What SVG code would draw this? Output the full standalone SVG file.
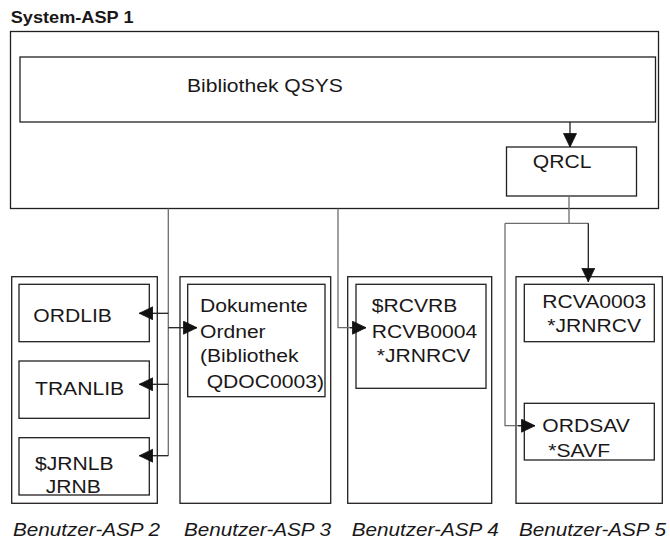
<svg xmlns="http://www.w3.org/2000/svg" width="670" height="540" viewBox="0 0 670 540">
<defs>
<style>
.box{fill:#fff;stroke:#231f20;stroke-width:1.3}
.con{fill:none;stroke:#6d6d6d;stroke-width:1.3}
.con2{fill:none;stroke:#231f20;stroke-width:1.3}
text{font-family:"Liberation Sans",Arial,Helvetica,sans-serif;fill:#1a1718}
.t{font-size:18.6px}
.b{font-size:16px;font-weight:bold}
.i{font-size:18px;font-style:italic}
</style>
<marker id="ah" markerUnits="userSpaceOnUse" markerWidth="16" markerHeight="16" refX="14" refY="7" orient="auto">
<path d="M0.5,0.5 L14,7 L0.5,13.5 z" fill="#111" stroke="#111" stroke-width="0.8"/>
</marker>
</defs>
<rect width="670" height="540" fill="#fff"/>

<g id="asp1">
<text class="b" transform="translate(10.7,23.3) scale(1.135,1)">System-ASP 1</text>
<rect class="box" x="10.5" y="31.5" width="648" height="177"/>
</g>
<g id="qsys">
<rect class="box" x="20" y="57" width="635.5" height="65"/>
<text class="t" transform="translate(187,92) scale(1.135,1)">Bibliothek QSYS</text>
</g>
<g id="qrcl">
<rect class="box" x="506.5" y="147" width="130" height="49"/>
<text class="t" transform="translate(532.8,168.3) scale(1.135,1)">QRCL</text>
</g>

<g id="asp2">
<rect class="box" x="11.7" y="276.7" width="145.6" height="226.6"/>
<text class="i" transform="translate(13,535.5) scale(1.15,1)">Benutzer-ASP 2</text>
</g>
<g id="ordlib">
<rect class="box" x="19" y="284.3" width="130.3" height="57.4"/>
<text class="t" transform="translate(33.3,321.7) scale(1.135,1)">ORDLIB</text>
</g>
<g id="tranlib">
<rect class="box" x="19" y="361" width="130.3" height="57.3"/>
<text class="t" transform="translate(35,395) scale(1.135,1)">TRANLIB</text>
</g>
<g id="jrnlb">
<rect class="box" x="19" y="437.7" width="130.3" height="57.3"/>
<text class="t" transform="translate(35,470) scale(1.135,1)">$JRNLB</text>
<text class="t" transform="translate(45.7,493.3) scale(1.135,1)">JRNB</text>
</g>

<g id="asp3">
<rect class="box" x="180" y="276.7" width="150.7" height="226.6"/>
<text class="i" transform="translate(184,535.5) scale(1.15,1)">Benutzer-ASP 3</text>
</g>
<g id="dokumente">
<rect class="box" x="187.7" y="284.3" width="137.3" height="112.4"/>
<text class="t" transform="translate(200,312.3) scale(1.135,1)">Dokumente</text>
<text class="t" transform="translate(200,338) scale(1.135,1)">Ordner</text>
<text class="t" transform="translate(200,362.3) scale(1.135,1)">(Bibliothek</text>
<text class="t" transform="translate(206.7,387.7) scale(1.135,1)">QDOC0003)</text>
</g>

<g id="asp4">
<rect class="box" x="347.7" y="276.7" width="144" height="226.6"/>
<text class="i" transform="translate(351.7,535.5) scale(1.15,1)">Benutzer-ASP 4</text>
</g>
<g id="rcvrb">
<rect class="box" x="356" y="284.3" width="130" height="104"/>
<text class="t" transform="translate(371.7,312.3) scale(1.135,1)">$RCVRB</text>
<text class="t" transform="translate(371.7,338) scale(1.135,1)">RCVB0004</text>
<text class="t" transform="translate(376.7,362.3) scale(1.135,1)">*JRNRCV</text>
</g>

<g id="asp5">
<rect class="box" x="516" y="276.7" width="146.3" height="226.6"/>
<text class="i" transform="translate(519,535.5) scale(1.15,1)">Benutzer-ASP 5</text>
</g>
<g id="rcva">
<rect class="box" x="524.3" y="284.3" width="130" height="57.4"/>
<text class="t" transform="translate(542.3,308.3) scale(1.135,1)">RCVA0003</text>
<text class="t" transform="translate(547.3,332.3) scale(1.135,1)">*JRNRCV</text>
</g>
<g id="ordsav">
<rect class="box" x="524.3" y="403.3" width="130" height="56.7"/>
<text class="t" transform="translate(542.3,432.3) scale(1.135,1)">ORDSAV</text>
<text class="t" transform="translate(548.3,456.7) scale(1.135,1)">*SAVF</text>
</g>

<g id="connectors">
<path class="con2" d="M570,122 V147" marker-end="url(#ah)"/>
<path class="con" d="M168.3,208.5 V455.7"/>
<path class="con2" d="M168.3,313.3 H139.3" marker-end="url(#ah)"/>
<path class="con2" d="M168.3,384.3 H139.3" marker-end="url(#ah)"/>
<path class="con2" d="M168.3,455.7 H139.3" marker-end="url(#ah)"/>
<path class="con2" d="M168.3,327.7 H197" marker-end="url(#ah)"/>
<path class="con" d="M338,208.5 V327.7 H355"/>
<path class="con2" d="M350,327.7 H366" marker-end="url(#ah)"/>
<path class="con" d="M569,196 V223.3 M505,223.3 H588.3"/>
<path class="con2" d="M588.3,223.3 V281.7" marker-end="url(#ah)"/>
<path class="con" d="M505,223.3 V425.7 H523"/>
<path class="con2" d="M518,425.7 H535" marker-end="url(#ah)"/>
</g>
</svg>
